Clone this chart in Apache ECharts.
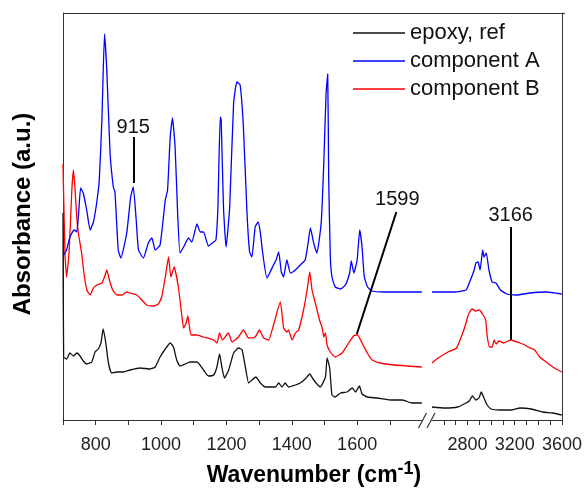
<!DOCTYPE html>
<html>
<head>
<meta charset="utf-8">
<script src="https://cdn.jsdelivr.net/npm/echarts@6/dist/echarts.min.js"></script>
<style>
  html, body { margin: 0; padding: 0; background: #fff; }
  #chart { width: 585px; height: 489px; }
</style>
</head>
<body>
<div id="chart"></div>
<script>
// FTIR spectra: [wavenumber (cm-1), absorbance (a.u., stacked offsets)]
// Fingerprint region 700–1800 cm-1 and C–H / O–H region 2500–3600 cm-1.
const refLow = [[700,2.07],[702,0.63],[711,0.61],[721,0.67],[732,0.64],[742,0.67],[750,0.65],[762,0.59],[773,0.56],[788,0.58],[798,0.68],[808,0.71],[816,0.77],[823,0.91],[831,0.77],[839,0.57],[849,0.47],[865,0.48],[885,0.48],[905,0.50],[936,0.52],[967,0.51],[982,0.53],[997,0.63],[1013,0.71],[1028,0.77],[1038,0.73],[1048,0.60],[1058,0.54],[1074,0.56],[1089,0.58],[1110,0.58],[1130,0.50],[1145,0.44],[1161,0.45],[1171,0.53],[1179,0.66],[1186,0.53],[1194,0.42],[1207,0.50],[1222,0.67],[1237,0.72],[1248,0.70],[1258,0.53],[1268,0.37],[1278,0.40],[1290,0.43],[1304,0.37],[1319,0.33],[1350,0.33],[1360,0.37],[1370,0.33],[1380,0.37],[1390,0.33],[1411,0.35],[1426,0.37],[1441,0.41],[1455,0.46],[1467,0.40],[1487,0.33],[1503,0.43],[1508,0.62],[1516,0.52],[1523,0.25],[1533,0.23],[1549,0.27],[1569,0.28],[1585,0.32],[1595,0.28],[1607,0.34],[1615,0.26],[1631,0.23],[1661,0.22],[1702,0.20],[1738,0.20],[1768,0.17],[1798,0.17]];
const refHigh = [[2500,0.13],[2608,0.12],[2718,0.13],[2788,0.17],[2815,0.19],[2843,0.24],[2871,0.20],[2898,0.22],[2917,0.28],[2940,0.22],[2967,0.15],[3001,0.11],[3079,0.10],[3175,0.10],[3245,0.12],[3341,0.11],[3438,0.08],[3521,0.07],[3598,0.05]];

const compALow = [[700,1.64],[711,1.70],[721,1.83],[734,1.90],[742,1.88],[747,2.03],[754,2.32],[762,2.27],[773,2.09],[783,1.90],[793,1.98],[803,2.17],[811,2.40],[819,3.00],[827,3.86],[834,3.50],[844,2.67],[854,2.33],[859,2.28],[869,1.70],[877,1.62],[895,1.87],[907,2.23],[915,2.33],[924,2.00],[931,1.70],[946,1.62],[961,1.77],[972,1.82],[982,1.70],[997,1.75],[1013,2.20],[1020,2.30],[1028,2.83],[1035,3.02],[1043,2.73],[1050,2.13],[1058,1.67],[1069,1.73],[1084,1.82],[1094,1.78],[1110,1.96],[1120,1.88],[1130,1.88],[1145,1.74],[1161,1.78],[1168,1.80],[1174,2.13],[1181,3.03],[1184,3.00],[1191,2.13],[1199,1.73],[1210,2.13],[1222,3.17],[1232,3.38],[1242,3.35],[1252,2.93],[1263,2.07],[1271,1.68],[1278,1.63],[1288,1.93],[1297,1.98],[1304,1.87],[1311,1.67],[1324,1.42],[1344,1.55],[1352,1.60],[1360,1.68],[1368,1.48],[1375,1.43],[1385,1.60],[1396,1.47],[1411,1.50],[1426,1.55],[1441,1.60],[1450,1.77],[1457,1.92],[1467,1.77],[1477,1.67],[1490,1.97],[1498,2.57],[1505,3.27],[1510,3.46],[1513,2.40],[1518,1.63],[1523,1.43],[1533,1.33],[1549,1.31],[1564,1.35],[1577,1.47],[1582,1.59],[1590,1.47],[1600,1.60],[1608,1.90],[1615,1.73],[1622,1.43],[1632,1.33],[1646,1.29],[1681,1.28],[1722,1.28],[1763,1.28],[1798,1.28]];
const compAHigh = [[2500,1.28],[2525,1.28],[2691,1.28],[2788,1.30],[2815,1.37],[2857,1.50],[2871,1.57],[2890,1.58],[2907,1.50],[2929,1.70],[2940,1.63],[2959,1.67],[2982,1.50],[3009,1.38],[3042,1.37],[3079,1.30],[3133,1.26],[3216,1.25],[3328,1.27],[3466,1.28],[3598,1.26]];

const compBLow = [[700,2.56],[706,1.67],[711,1.43],[719,1.70],[727,2.30],[732,2.50],[737,2.30],[742,2.03],[747,1.87],[757,1.67],[764,1.47],[773,1.30],[783,1.25],[793,1.32],[803,1.35],[819,1.37],[829,1.45],[834,1.50],[842,1.40],[852,1.30],[865,1.25],[880,1.25],[895,1.28],[905,1.27],[926,1.25],[941,1.20],[956,1.15],[977,1.14],[992,1.16],[1002,1.23],[1013,1.43],[1023,1.63],[1030,1.43],[1040,1.53],[1053,1.33],[1064,1.03],[1069,0.92],[1077,0.97],[1082,1.04],[1087,0.93],[1092,0.85],[1110,0.85],[1130,0.83],[1161,0.80],[1171,0.77],[1179,0.87],[1188,0.80],[1206,0.87],[1217,0.78],[1237,0.83],[1252,0.90],[1268,0.82],[1288,0.83],[1301,0.90],[1314,0.82],[1329,0.80],[1344,0.95],[1365,1.18],[1375,0.92],[1385,0.88],[1390,0.90],[1401,0.80],[1411,0.87],[1421,0.90],[1436,1.10],[1447,1.30],[1455,1.48],[1462,1.30],[1472,1.17],[1485,1.00],[1493,0.92],[1498,0.83],[1503,0.87],[1508,0.75],[1518,0.68],[1533,0.63],[1554,0.67],[1574,0.77],[1589,0.84],[1598,0.85],[1604,0.84],[1615,0.77],[1631,0.67],[1646,0.60],[1671,0.57],[1712,0.55],[1753,0.54],[1798,0.53]];
const compBHigh = [[2500,0.57],[2552,0.62],[2635,0.68],[2708,0.72],[2760,0.87],[2788,0.97],[2801,1.03],[2815,1.07],[2838,1.11],[2871,1.09],[2898,1.10],[2934,1.05],[2954,1.00],[2967,0.84],[2987,0.73],[3009,0.73],[3026,0.80],[3045,0.76],[3065,0.79],[3106,0.77],[3166,0.80],[3245,0.77],[3286,0.75],[3314,0.73],[3369,0.70],[3411,0.63],[3455,0.59],[3535,0.52],[3598,0.48]];

// Marked bands: [wavenumber, lower absorbance, upper absorbance] of each leader line
const band915 = [915, 2.37, 2.83];
const band1599 = [1599, 0.86, 2.08];
const band1599LeaderTopX = 1720;
const band3166 = [3166, 0.80, 1.93];

// Axis ticks and labels for the two halves of the broken axis
const lowTicks = [700, 800, 900, 1000, 1100, 1200, 1300, 1400, 1500, 1600, 1700];
const lowLabels = [800, 1000, 1200, 1400, 1600];
const highTicks = [2600, 2700, 2800, 2900, 3000, 3100, 3200, 3300, 3400, 3500, 3600];
const highLabels = [2800, 3200, 3600];

const seriesNames = ['epoxy, ref', 'component A', 'component B'];
const seriesColors = ['#111111', '#0000ff', '#ff0000'];

const FONT = "'Liberation Sans', Arial, sans-serif";
const AXIS = '#333333';

const chart = echarts.init(document.getElementById('chart'), null, { renderer: 'canvas' });

function xAxisOf(gridIndex, min, max, ticks, labels) {
  return {
    gridIndex, type: 'value', min, max, interval: 100,
    axisLine: { show: true, onZero: false, lineStyle: { color: AXIS, width: 1 } },
    axisTick: { show: true, customValues: ticks, length: 5, lineStyle: { color: AXIS } },
    axisLabel: { show: true, customValues: labels, margin: 16, fontSize: 18, color: '#222',
                 fontFamily: FONT, formatter: (v) => String(v) },
    splitLine: { show: false }
  };
}
function yAxisOf(gridIndex, position) {
  return {
    gridIndex, type: 'value', min: 0, max: 4.07, position,
    axisLine: { show: true, onZero: false, lineStyle: { color: AXIS, width: 1 } },
    axisTick: { show: false }, axisLabel: { show: false }, splitLine: { show: false }
  };
}
function leader(from, to, text, distance) {
  return {
    silent: true, animation: false, symbol: ['none', 'none'],
    emphasis: { disabled: true },
    lineStyle: { color: '#000', width: 2, type: 'solid' },
    label: { show: true, position: 'end', formatter: String(text), fontSize: 20,
             color: '#111', fontFamily: FONT, distance },
    data: [[{ coord: from }, { coord: to }]]
  };
}
function spectrum(idx, data, axisIndex, extra) {
  return Object.assign({
    name: seriesNames[idx], type: 'line', data,
    xAxisIndex: axisIndex, yAxisIndex: axisIndex,
    showSymbol: false, symbol: 'none', smooth: 0.15,
    lineStyle: { color: seriesColors[idx], width: 1.3 },
    itemStyle: { color: seriesColors[idx] },
    emphasis: { disabled: true }
  }, extra || {});
}

const option = {
  animation: false,
  backgroundColor: '#fff',
  grid: [
    { left: 63, top: 13, width: 359.5, height: 407 },
    { left: 432, top: 13, width: 132.5, height: 407 }
  ],
  xAxis: [
    xAxisOf(0, 700, 1800, lowTicks, lowLabels),
    xAxisOf(1, 2500, 3600, highTicks, highLabels)
  ],
  yAxis: [yAxisOf(0, 'left'), yAxisOf(1, 'right')],
  legend: {
    data: seriesNames.map((n, i) => ({ name: n, icon: 'rect', itemStyle: { color: seriesColors[i] } })),
    orient: 'vertical', left: 353, top: 19, padding: 0,
    itemWidth: 52, itemHeight: 1.4, itemGap: 0,
    textStyle: { fontSize: 22, lineHeight: 28, color: '#111', fontFamily: FONT },
    selectedMode: false
  },
  series: [
    spectrum(0, refLow, 0),
    spectrum(2, compBLow, 0, {
      markLine: leader([band1599[0], band1599[1]], [band1599LeaderTopX, band1599[2]], band1599[0], 3)
    }),
    spectrum(1, compALow, 0, {
      markLine: leader([band915[0], band915[1]], [band915[0], band915[2]], band915[0], 0)
    }),
    spectrum(0, refHigh, 1),
    spectrum(2, compBHigh, 1, {
      markLine: leader([band3166[0], band3166[1]], [band3166[0], band3166[2]], band3166[0], 2)
    }),
    spectrum(1, compAHigh, 1)
  ],
  graphic: [
    // top edge of the frame
    { type: 'line', silent: true, shape: { x1: 63, y1: 13.5, x2: 565, y2: 13.5 },
      style: { stroke: AXIS, lineWidth: 1 } },
    // axis break marks
    { type: 'line', silent: true, shape: { x1: 418.5, y1: 428, x2: 426.5, y2: 413 },
      style: { stroke: AXIS, lineWidth: 1.2 } },
    { type: 'line', silent: true, shape: { x1: 427, y1: 428, x2: 435, y2: 413 },
      style: { stroke: AXIS, lineWidth: 1.2 } },
    // axis titles
    { type: 'text', silent: true, x: 314, y: 476,
      style: {
        text: '{m|Wavenumber (cm}{s|-1}{m|)}',
        align: 'center', verticalAlign: 'middle',
        textAlign: 'center', textVerticalAlign: 'middle',
        rich: {
          m: { fontSize: 23, fontWeight: 'bold', fontFamily: FONT, fill: '#000', verticalAlign: 'middle', lineHeight: 26 },
          s: { fontSize: 18, fontWeight: 'bold', fontFamily: FONT, fill: '#000', verticalAlign: 'middle', lineHeight: 18, padding: [0, 0, 14, 0] }
        }
      } },
    { type: 'text', silent: true, x: 23, y: 214, rotation: Math.PI / 2,
      style: {
        text: 'Absorbance (a.u.)', fontSize: 24, fontWeight: 'bold', fontFamily: FONT, fill: '#000',
        align: 'center', verticalAlign: 'middle', textAlign: 'center', textVerticalAlign: 'middle'
      } }
  ]
};

chart.setOption(option);
</script>
</body>
</html>
